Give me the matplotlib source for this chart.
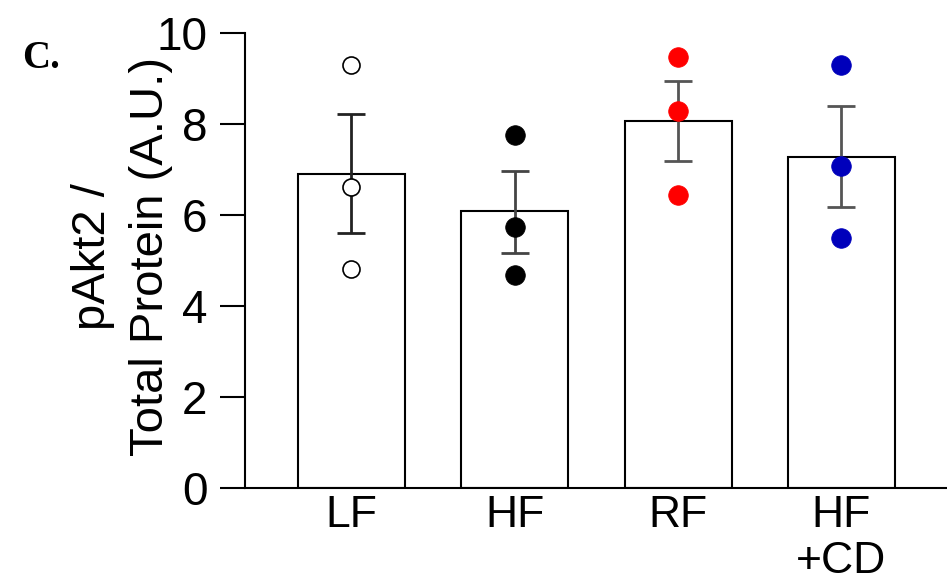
import matplotlib.pyplot as plt
import numpy as np

plt.rcParams['font.family'] = ['Liberation Sans', 'DejaVu Sans']

groups = ["LF", "HF", "RF", "HF\n+CD"]
means = [6.90, 6.08, 8.06, 7.28]
err_hi = [8.21, 6.96, 8.95, 8.40]
err_lo = [5.60, 5.16, 7.18, 6.18]
points = [
	[9.30, 6.62, 4.81],
	[7.76, 5.74, 4.68],
	[9.47, 8.28, 6.45],
	[9.29, 7.08, 5.49],
]
dot_face = ["white", "black", "#ff0000", "#0000bb"]
dot_edge = ["black", "black", "#ff0000", "#0000bb"]
err_color = ["#222222", "#444444", "#555555", "#555555"]

fig = plt.figure(figsize=(9.47, 5.88), dpi=100)
ax = fig.add_axes([0.2587, 0.17, 0.7413, 0.7738])

x = np.arange(len(groups))
ax.bar(x, means, width=0.655, color="white", edgecolor="black", linewidth=1.5, zorder=1)

# error bars (asymmetric)
for i in range(len(groups)):
	lo = means[i] - err_lo[i]
	hi = err_hi[i] - means[i]
	ax.errorbar(x[i], means[i], yerr=[[lo], [hi]], fmt="none", ecolor=err_color[i],
				elinewidth=2, capsize=10, capthick=2, zorder=2)

# individual points
for i, vals in enumerate(points):
	if i == 0:
		ax.scatter([x[i]] * len(vals), vals, s=150, facecolor=dot_face[i],
				   edgecolor=dot_edge[i], linewidth=1.2, zorder=3)
	else:
		ax.scatter([x[i]] * len(vals), vals, s=200, facecolor=dot_face[i],
				   edgecolor=dot_edge[i], linewidth=0.5, zorder=3)

ax.set_ylim(0, 10)
ax.set_xlim(-0.652, 3.647)
ax.set_yticks([0, 2, 4, 6, 8, 10])
ax.set_xticks(x)
ax.set_xticklabels(groups, fontsize=32, linespacing=1.15)
ax.tick_params(axis="y", labelsize=33, length=18, width=1.5, pad=9)
ax.tick_params(axis="x", length=0, pad=5)

for s in ["top", "right"]:
	ax.spines[s].set_visible(False)
ax.spines["left"].set_linewidth(1.5)
ax.spines["bottom"].set_linewidth(1.5)

fig.text(0.129, 0.563, "pAkt2 /\nTotal Protein (A.U.)", rotation=90, fontsize=34,
		 ha="center", va="center", multialignment="center", linespacing=1.4)

fig.text(0.023, 0.9, "C.", fontsize=28, fontweight="bold", family="Liberation Serif",
		 ha="left", va="center")

fig.savefig("out.png", dpi=100)
